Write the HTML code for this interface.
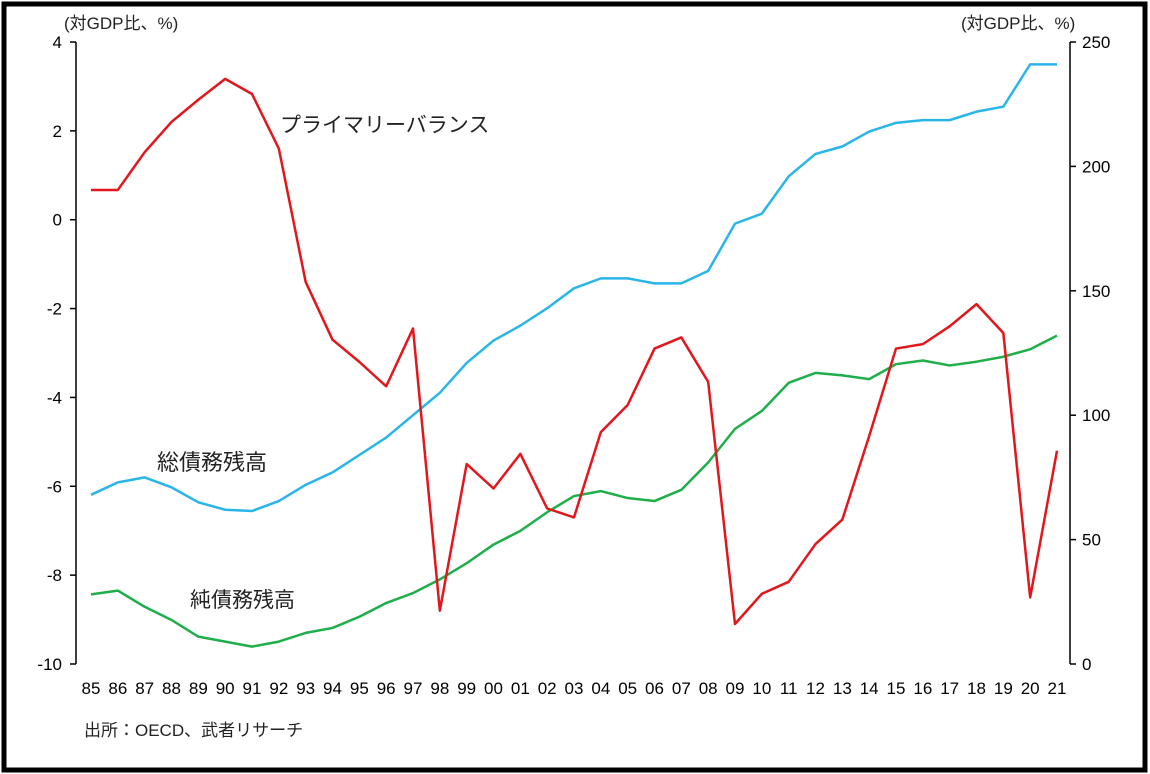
<!DOCTYPE html>
<html><head><meta charset="utf-8"><style>
body{margin:0;background:#fff;}
svg{display:block;font-family:"Liberation Sans","Noto Sans CJK JP",sans-serif;}
</style></head><body>
<svg id="c" width="1150" height="774">
<rect x="4" y="4" width="1141" height="766" fill="#fff" stroke="#000" stroke-width="5"/>
<g id="g"></g>
</svg>
<script>
const years=['85','86','87','88','89','90','91','92','93','94','95','96','97','98','99','00','01','02','03','04','05','06','07','08','09','10','11','12','13','14','15','16','17','18','19','20','21'];
const primaryBalance=[0.67,0.67,1.52,2.2,2.7,3.17,2.83,1.6,-1.4,-2.7,-3.2,-3.75,-2.45,-8.8,-5.5,-6.05,-5.27,-6.5,-6.7,-4.78,-4.17,-2.9,-2.65,-3.65,-9.1,-8.42,-8.15,-7.3,-6.75,-4.87,-2.9,-2.8,-2.4,-1.9,-2.55,-8.5,-5.2];
const grossDebt=[68,73,75,71,65,62,61.5,65.5,72,77,84,91,100,109,121,130,136,143,151,155,155,153,153,158,177,181,196,205,208,214,217.5,218.6,218.6,222,224,241,241];
const netDebt=[28,29.5,23,17.7,11,9,7,9,12.5,14.5,19,24.5,28.5,34,40.5,48,53.5,61,67.5,69.5,66.7,65.5,70,81,94.5,101.7,113,117,116,114.5,120.5,122,120,121.5,123.5,126.5,132];
const leftTicks=[4,2,0,-2,-4,-6,-8,-10];
const rightTicks=[250,200,150,100,50,0];
const NS='http://www.w3.org/2000/svg';
const g=document.getElementById('g');
const yTop=42,yBot=664,axL=76,axR=1070,x0=91,x1=1057;
const xS=i=>x0+(x1-x0)*i/(years.length-1);
const yL=v=>yTop+(4-v)*(yBot-yTop)/14;
const yR=v=>yBot-v*(yBot-yTop)/250;
function el(t,a,txt){const e=document.createElementNS(NS,t);for(const k in a)e.setAttribute(k,a[k]);if(txt!==undefined)e.textContent=txt;g.appendChild(e);return e;}
let e;
e=el('line',{x1:axL,y1:yTop,x2:axL,y2:yBot,stroke:'#000','stroke-width':1.5});


e=el('line',{x1:axR,y1:yTop,x2:axR,y2:yBot,stroke:'#000','stroke-width':1.5});


leftTicks.forEach(v=>{
  e=el('line',{x1:axL-6,y1:yL(v),x2:axL,y2:yL(v),stroke:'#000','stroke-width':1.5});
  
  
  e=el('text',{x:62,y:yL(v)+6,'text-anchor':'end','font-size':17,fill:'#000'},String(v));
  
  
});
rightTicks.forEach(v=>{
  e=el('line',{x1:axR,y1:yR(v),x2:axR+6,y2:yR(v),stroke:'#000','stroke-width':1.5});
  
  
  e=el('text',{x:1082,y:yR(v)+6,'font-size':17,fill:'#000'},String(v));
  
  
});
years.forEach((y,i)=>{
  e=el('text',{x:xS(i),y:694,'text-anchor':'middle','font-size':17,fill:'#000'},y);
  
  
});
function line(arr,f,col,name){
  e=el('polyline',{points:arr.map((v,i)=>xS(i)+','+f(v)).join(' '),fill:'none',stroke:col,'stroke-width':2.5,'stroke-linejoin':'round'});
  
  
}
line(grossDebt,yR,'#29b5e8','gross-debt-line');
line(netDebt,yR,'#1fae4a','net-debt-line');
line(primaryBalance,yL,'#e3161c','primary-balance-line');
function txt(x,y,s,fs,name){e=el('text',{x:x,y:y,'font-size':fs,fill:'#222'},s);}
txt(64,29,'(対GDP比、%)',17,'left-axis-unit');
txt(961,29,'(対GDP比、%)',17,'right-axis-unit');
txt(280,132,'プライマリーバランス',21,'primary-balance-label');
txt(157,470,'総債務残高',22,'gross-debt-label');
txt(190,607,'純債務残高',21,'net-debt-label');
txt(84,736,'出所：OECD、武者リサーチ',17,'source-note');
</script>
</body></html>
